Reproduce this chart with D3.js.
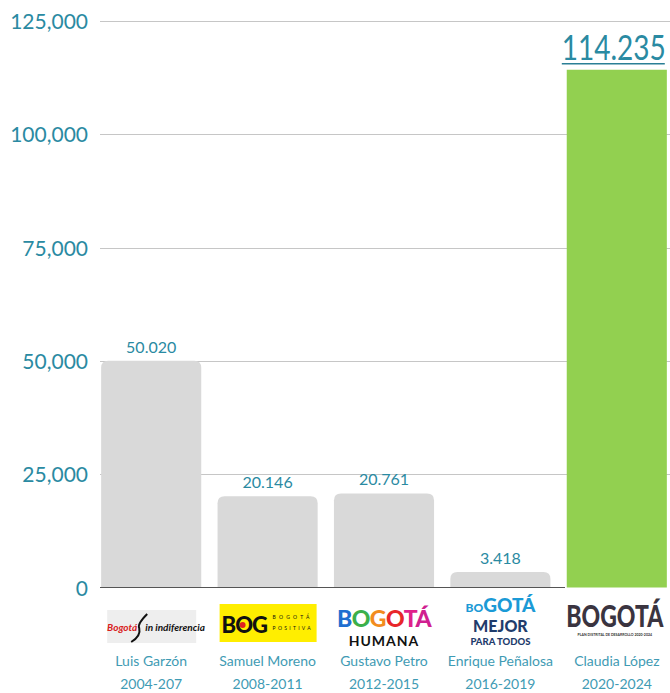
<!DOCTYPE html>
<html><head><meta charset="utf-8">
<script src="https://cdn.jsdelivr.net/npm/d3@7"></script>
<style>body{margin:0;background:#fff}svg{display:block}text{font-family:Lato,"Open Sans",sans-serif}</style>
</head><body>
<svg id="c" width="670" height="693"></svg>
<script>
const names = ["Luis Garzón","Samuel Moreno","Gustavo Petro","Enrique Peñalosa","Claudia López"];
const periods = ["2004-207","2008-2011","2012-2015","2016-2019","2020-2024"];
const values = [50020, 20146, 20761, 3418, 114235];
const valueLabels = ["50.020","20.146","20.761","3.418","114.235"];
const yTicks = [0, 25000, 50000, 75000, 100000, 125000];

const svg = d3.select("#c");
const teal = "#2a8aa2", tealLight = "#3f9bb4";
const y = d3.scaleLinear().domain([0,125000]).range([587.5, 21]);
const x = d3.scaleBand().domain(names).range([93,675]).paddingInner(0.14).paddingOuter(0.07);

// gridlines
svg.append("g").selectAll("line").data(yTicks.slice(1)).join("line")
  .attr("x1",100).attr("x2",670).attr("y1",d=>Math.round(y(d))+0.5).attr("y2",d=>Math.round(y(d))+0.5)
  .attr("stroke","#c6c6c6").attr("stroke-width",1);
// y labels
svg.append("g").selectAll("text").data(yTicks).join("text")
  .attr("x",88).attr("y",d=>y(d)+8).attr("text-anchor","end")
  .attr("font-size",21).attr("fill",teal).text(d=>d3.format(",")(d));

// bars
const r = 7;
function roundTop(x0,y0,w,h,rr){
  return `M${x0},${y0+h}V${y0+rr}Q${x0},${y0} ${x0+rr},${y0}H${x0+w-rr}Q${x0+w},${y0} ${x0+w},${y0+rr}V${y0+h}Z`;
}
svg.append("g").selectAll("path").data(values).join("path")
  .attr("d",(d,i)=>{const x0=x(names[i]),w=x.bandwidth(),y0=y(d),h=y(0)-y(d);
     return i===4 ? `M${x0},${y0}H${x0+w}V${y0+h}H${x0}Z` : roundTop(x0,y0,w,h,r);})
  .attr("fill",(d,i)=>i===4?"#92d050":"#d9d9d9");

// baseline
svg.append("line").attr("x1",100).attr("x2",565).attr("y1",587.5).attr("y2",587.5).attr("stroke","#555").attr("stroke-width",1);

// value labels (small)
svg.append("g").selectAll("text").data(values.slice(0,4)).join("text")
  .attr("x",(d,i)=>x(names[i])+x.bandwidth()/2)
  .attr("y",d=>y(d)-8)
  .attr("text-anchor","middle").attr("fill",teal).attr("font-size",16)
  .text((d,i)=>valueLabels[i]);
// big label for last bar (condensed look via vertical stretch)
const bx = x(names[4])+x.bandwidth()/2 - 3, by = y(values[4]) - 10;
svg.append("g").attr("transform",`translate(${bx},${by}) scale(1,1.22)`)
  .append("text").attr("text-anchor","middle").attr("font-size",28).attr("fill",teal).text(valueLabels[4]);
svg.append("line").attr("x1",bx-52).attr("x2",bx+51).attr("y1",y(values[4])-6).attr("y2",y(values[4])-6)
  .attr("stroke","#2a7f96").attr("stroke-width",1.5);

// category labels
const lab = svg.append("g").selectAll("g").data(names).join("g")
  .attr("transform",d=>`translate(${x(d)+x.bandwidth()/2},0)`);
lab.append("text").attr("y",666).attr("text-anchor","middle").attr("font-size",14).attr("fill",tealLight).text(d=>d);
lab.append("text").attr("y",689).attr("text-anchor","middle").attr("font-size",14).attr("fill",tealLight).text((d,i)=>periods[i]);

// logos (approximate)
function cx(i){return x(names[i])+x.bandwidth()/2;}
// 1
let g1 = svg.append("g").attr("transform",`translate(${cx(0)},0)`);
g1.append("rect").attr("x",-44).attr("y",610).attr("width",89).attr("height",33).attr("fill","#eeeeee");
g1.append("text").attr("x",-14).attr("y",631).attr("text-anchor","end").attr("font-size",10).attr("font-weight",700).attr("font-style","italic").attr("fill","#d92020").text("Bogotá");
g1.append("text").attr("x",-6).attr("y",631).attr("font-size",10).attr("font-weight",700).attr("font-style","italic").attr("fill","#111").text("in indiferencia");
g1.append("path").attr("d","M-4,614 Q-14,624 -12,628 Q-10,636 -20,642").attr("stroke","#111").attr("stroke-width",2).attr("fill","none");
// 2
let g2 = svg.append("g").attr("transform",`translate(${cx(1)},0)`);
g2.append("rect").attr("x",-48).attr("y",604).attr("width",97).attr("height",38).attr("fill","#ffee00");
g2.append("text").attr("x",-46).attr("y",633).attr("font-size",22).attr("font-weight",900).attr("fill","#111").attr("letter-spacing",-1).text("BOG");
g2.append("circle").attr("cx",-25).attr("cy",625).attr("r",3).attr("fill","#e02020");
g2.append("text").attr("x",5).attr("y",619).attr("font-size",5).attr("letter-spacing",3.2).attr("fill","#111").text("BOGOTÁ");
g2.append("text").attr("x",5).attr("y",630).attr("font-size",5).attr("letter-spacing",2.3).attr("fill","#111").text("POSITIVA");
// 3
let g3 = svg.append("g").attr("transform",`translate(${cx(2)},0)`);
const cols3 = ["#1f6fd0","#3bb04a","#f28c1e","#e8262a","#e0218a","#d02090"];
const t3 = g3.append("text").attr("y",627).attr("text-anchor","middle").attr("font-size",23).attr("font-weight",900).attr("letter-spacing",-0.5);
"BOGOTÁ".split("").forEach((c,i)=>t3.append("tspan").attr("fill",cols3[i]).text(c));
g3.append("text").attr("y",646).attr("text-anchor","middle").attr("font-size",14).attr("font-weight",700).attr("fill","#111").attr("letter-spacing",1).text("HUMANA");
// 4
let g4 = svg.append("g").attr("transform",`translate(${cx(3)},0)`);
const t4 = g4.append("text").attr("y",612).attr("text-anchor","middle").attr("fill","#1b9ad6").attr("font-weight",900);
t4.append("tspan").attr("font-size",12).text("BO");
t4.append("tspan").attr("font-size",19).text("GOTÁ");
g4.append("text").attr("y",632).attr("text-anchor","middle").attr("font-size",16).attr("font-weight",900).attr("fill","#1f3c6c").text("MEJOR");
g4.append("text").attr("y",645).attr("text-anchor","middle").attr("font-size",9.5).attr("font-weight",900).attr("fill","#1f3c6c").text("PARA TODOS");
// 5
let g5 = svg.append("g").attr("transform",`translate(${cx(4)-2},627) scale(1,1.3)`);
g5.append("text").attr("text-anchor","middle").attr("font-size",23).attr("font-weight",900).attr("fill","#3a3440").text("BOGOTÁ");
svg.append("text").attr("x",cx(4)-2).attr("y",636).attr("text-anchor","middle").attr("font-size",3.5).attr("font-weight",700).attr("fill","#333").text("PLAN DISTRITAL DE DESARROLLO 2020-2024");
</script>
</body></html>
